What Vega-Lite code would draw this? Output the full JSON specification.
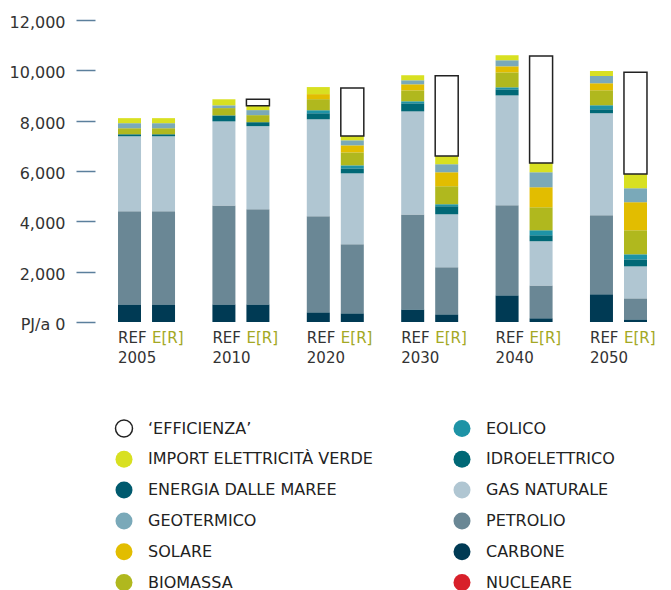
{
  "$schema": "https://vega.github.io/schema/vega-lite/v6.json",
  "width": 545,
  "height": 302,
  "autosize": {"type": "none"},
  "padding": {"left": 110, "top": 20, "right": 16, "bottom": 268},
  "background": "#ffffff",
  "config": {
    "view": {"stroke": null},
    "font": "DejaVu Sans",
    "axis": {"labelFont": "DejaVu Sans"},
    "legend": {"labelFont": "DejaVu Sans"}
  },
  "data": {
    "values": [
      {"year": "2005", "scenario": "REF", "source": "CARBONE", "value": 700},
      {"year": "2005", "scenario": "REF", "source": "PETROLIO", "value": 3700},
      {"year": "2005", "scenario": "REF", "source": "GAS NATURALE", "value": 2980},
      {"year": "2005", "scenario": "REF", "source": "IDROELETTRICO", "value": 80},
      {"year": "2005", "scenario": "REF", "source": "BIOMASSA", "value": 240},
      {"year": "2005", "scenario": "REF", "source": "GEOTERMICO", "value": 200},
      {"year": "2005", "scenario": "REF", "source": "IMPORT ELETTRICITÀ VERDE", "value": 200},
      {"year": "2005", "scenario": "E[R]", "source": "CARBONE", "value": 700},
      {"year": "2005", "scenario": "E[R]", "source": "PETROLIO", "value": 3700},
      {"year": "2005", "scenario": "E[R]", "source": "GAS NATURALE", "value": 2980},
      {"year": "2005", "scenario": "E[R]", "source": "IDROELETTRICO", "value": 80},
      {"year": "2005", "scenario": "E[R]", "source": "BIOMASSA", "value": 240},
      {"year": "2005", "scenario": "E[R]", "source": "GEOTERMICO", "value": 200},
      {"year": "2005", "scenario": "E[R]", "source": "IMPORT ELETTRICITÀ VERDE", "value": 200},
      {"year": "2010", "scenario": "REF", "source": "CARBONE", "value": 700},
      {"year": "2010", "scenario": "REF", "source": "PETROLIO", "value": 3930},
      {"year": "2010", "scenario": "REF", "source": "GAS NATURALE", "value": 3340},
      {"year": "2010", "scenario": "REF", "source": "IDROELETTRICO", "value": 240},
      {"year": "2010", "scenario": "REF", "source": "BIOMASSA", "value": 290},
      {"year": "2010", "scenario": "REF", "source": "GEOTERMICO", "value": 110},
      {"year": "2010", "scenario": "REF", "source": "IMPORT ELETTRICITÀ VERDE", "value": 240},
      {"year": "2010", "scenario": "E[R]", "source": "CARBONE", "value": 700},
      {"year": "2010", "scenario": "E[R]", "source": "PETROLIO", "value": 3780},
      {"year": "2010", "scenario": "E[R]", "source": "GAS NATURALE", "value": 3300},
      {"year": "2010", "scenario": "E[R]", "source": "IDROELETTRICO", "value": 160},
      {"year": "2010", "scenario": "E[R]", "source": "BIOMASSA", "value": 280},
      {"year": "2010", "scenario": "E[R]", "source": "GEOTERMICO", "value": 200},
      {"year": "2010", "scenario": "E[R]", "source": "IMPORT ELETTRICITÀ VERDE", "value": 170},
      {"year": "2010", "scenario": "E[R]", "source": "‘EFFICIENZA’", "value": 260},
      {"year": "2020", "scenario": "REF", "source": "CARBONE", "value": 385},
      {"year": "2020", "scenario": "REF", "source": "PETROLIO", "value": 3815},
      {"year": "2020", "scenario": "REF", "source": "GAS NATURALE", "value": 3855},
      {"year": "2020", "scenario": "REF", "source": "IDROELETTRICO", "value": 240},
      {"year": "2020", "scenario": "REF", "source": "EOLICO", "value": 120},
      {"year": "2020", "scenario": "REF", "source": "BIOMASSA", "value": 440},
      {"year": "2020", "scenario": "REF", "source": "SOLARE", "value": 200},
      {"year": "2020", "scenario": "REF", "source": "IMPORT ELETTRICITÀ VERDE", "value": 280},
      {"year": "2020", "scenario": "E[R]", "source": "CARBONE", "value": 345},
      {"year": "2020", "scenario": "E[R]", "source": "PETROLIO", "value": 2740},
      {"year": "2020", "scenario": "E[R]", "source": "GAS NATURALE", "value": 2820},
      {"year": "2020", "scenario": "E[R]", "source": "IDROELETTRICO", "value": 200},
      {"year": "2020", "scenario": "E[R]", "source": "EOLICO", "value": 120},
      {"year": "2020", "scenario": "E[R]", "source": "BIOMASSA", "value": 515},
      {"year": "2020", "scenario": "E[R]", "source": "SOLARE", "value": 280},
      {"year": "2020", "scenario": "E[R]", "source": "GEOTERMICO", "value": 200},
      {"year": "2020", "scenario": "E[R]", "source": "IMPORT ELETTRICITÀ VERDE", "value": 170},
      {"year": "2020", "scenario": "E[R]", "source": "‘EFFICIENZA’", "value": 1910},
      {"year": "2030", "scenario": "REF", "source": "CARBONE", "value": 500},
      {"year": "2030", "scenario": "REF", "source": "PETROLIO", "value": 3775},
      {"year": "2030", "scenario": "REF", "source": "GAS NATURALE", "value": 4095},
      {"year": "2030", "scenario": "REF", "source": "IDROELETTRICO", "value": 320},
      {"year": "2030", "scenario": "REF", "source": "EOLICO", "value": 80},
      {"year": "2030", "scenario": "REF", "source": "BIOMASSA", "value": 435},
      {"year": "2030", "scenario": "REF", "source": "SOLARE", "value": 240},
      {"year": "2030", "scenario": "REF", "source": "GEOTERMICO", "value": 160},
      {"year": "2030", "scenario": "REF", "source": "IMPORT ELETTRICITÀ VERDE", "value": 200},
      {"year": "2030", "scenario": "E[R]", "source": "CARBONE", "value": 305},
      {"year": "2030", "scenario": "E[R]", "source": "PETROLIO", "value": 1870},
      {"year": "2030", "scenario": "E[R]", "source": "GAS NATURALE", "value": 2105},
      {"year": "2030", "scenario": "E[R]", "source": "IDROELETTRICO", "value": 320},
      {"year": "2030", "scenario": "E[R]", "source": "EOLICO", "value": 80},
      {"year": "2030", "scenario": "E[R]", "source": "BIOMASSA", "value": 715},
      {"year": "2030", "scenario": "E[R]", "source": "SOLARE", "value": 555},
      {"year": "2030", "scenario": "E[R]", "source": "GEOTERMICO", "value": 320},
      {"year": "2030", "scenario": "E[R]", "source": "IMPORT ELETTRICITÀ VERDE", "value": 330},
      {"year": "2030", "scenario": "E[R]", "source": "‘EFFICIENZA’", "value": 3180},
      {"year": "2040", "scenario": "REF", "source": "CARBONE", "value": 1060},
      {"year": "2040", "scenario": "REF", "source": "PETROLIO", "value": 3575},
      {"year": "2040", "scenario": "REF", "source": "GAS NATURALE", "value": 4370},
      {"year": "2040", "scenario": "REF", "source": "IDROELETTRICO", "value": 240},
      {"year": "2040", "scenario": "REF", "source": "EOLICO", "value": 80},
      {"year": "2040", "scenario": "REF", "source": "BIOMASSA", "value": 595},
      {"year": "2040", "scenario": "REF", "source": "SOLARE", "value": 240},
      {"year": "2040", "scenario": "REF", "source": "GEOTERMICO", "value": 240},
      {"year": "2040", "scenario": "REF", "source": "IMPORT ELETTRICITÀ VERDE", "value": 200},
      {"year": "2040", "scenario": "E[R]", "source": "CARBONE", "value": 145},
      {"year": "2040", "scenario": "E[R]", "source": "PETROLIO", "value": 1310},
      {"year": "2040", "scenario": "E[R]", "source": "GAS NATURALE", "value": 1750},
      {"year": "2040", "scenario": "E[R]", "source": "IDROELETTRICO", "value": 240},
      {"year": "2040", "scenario": "E[R]", "source": "EOLICO", "value": 200},
      {"year": "2040", "scenario": "E[R]", "source": "BIOMASSA", "value": 915},
      {"year": "2040", "scenario": "E[R]", "source": "SOLARE", "value": 795},
      {"year": "2040", "scenario": "E[R]", "source": "GEOTERMICO", "value": 595},
      {"year": "2040", "scenario": "E[R]", "source": "IMPORT ELETTRICITÀ VERDE", "value": 370},
      {"year": "2040", "scenario": "E[R]", "source": "‘EFFICIENZA’", "value": 4250},
      {"year": "2050", "scenario": "REF", "source": "CARBONE", "value": 1100},
      {"year": "2050", "scenario": "REF", "source": "PETROLIO", "value": 3140},
      {"year": "2050", "scenario": "REF", "source": "GAS NATURALE", "value": 4055},
      {"year": "2050", "scenario": "REF", "source": "IDROELETTRICO", "value": 160},
      {"year": "2050", "scenario": "REF", "source": "EOLICO", "value": 160},
      {"year": "2050", "scenario": "REF", "source": "BIOMASSA", "value": 595},
      {"year": "2050", "scenario": "REF", "source": "SOLARE", "value": 280},
      {"year": "2050", "scenario": "REF", "source": "GEOTERMICO", "value": 280},
      {"year": "2050", "scenario": "REF", "source": "IMPORT ELETTRICITÀ VERDE", "value": 200},
      {"year": "2050", "scenario": "E[R]", "source": "CARBONE", "value": 105},
      {"year": "2050", "scenario": "E[R]", "source": "PETROLIO", "value": 835},
      {"year": "2050", "scenario": "E[R]", "source": "GAS NATURALE", "value": 1270},
      {"year": "2050", "scenario": "E[R]", "source": "IDROELETTRICO", "value": 280},
      {"year": "2050", "scenario": "E[R]", "source": "EOLICO", "value": 200},
      {"year": "2050", "scenario": "E[R]", "source": "BIOMASSA", "value": 955},
      {"year": "2050", "scenario": "E[R]", "source": "SOLARE", "value": 1115},
      {"year": "2050", "scenario": "E[R]", "source": "GEOTERMICO", "value": 555},
      {"year": "2050", "scenario": "E[R]", "source": "IMPORT ELETTRICITÀ VERDE", "value": 570},
      {"year": "2050", "scenario": "E[R]", "source": "‘EFFICIENZA’", "value": 4040}
    ]
  },
  "encoding": {
    "x": {
      "field": "year",
      "type": "nominal",
      "scale": {"paddingInner": 0.396, "paddingOuter": 0.085},
      "axis": {
        "title": null,
        "domain": false,
        "ticks": false,
        "labelAngle": 0,
        "labelAlign": "left",
        "labelOffset": -28.5,
        "labelPadding": 28,
        "labelFontSize": 15,
        "labelColor": "#333333"
      }
    },
    "xOffset": {
      "field": "scenario",
      "type": "nominal",
      "scale": {"domain": ["REF", "E[R]"], "paddingInner": 0.3235, "paddingOuter": 0}
    }
  },
  "layer": [
    {
      "transform": [
        {"calculate": "indexof(['CARBONE','PETROLIO','GAS NATURALE','NUCLEARE','IDROELETTRICO','ENERGIA DALLE MAREE','EOLICO','BIOMASSA','SOLARE','GEOTERMICO','IMPORT ELETTRICITÀ VERDE','‘EFFICIENZA’'], datum.source)", "as": "stack_order"}
      ],
      "mark": {"type": "bar", "strokeWidth": 1.5},
      "encoding": {
        "y": {
          "field": "value",
          "type": "quantitative",
          "stack": "zero",
          "scale": {"domain": [0, 12000], "nice": false},
          "axis": {
            "title": null,
            "grid": false,
            "domain": false,
            "values": [0, 2000, 4000, 6000, 8000, 10000, 12000],
            "labelExpr": "datum.value === 0 ? 'PJ/a 0' : format(datum.value, ',.0f')",
            "tickSize": 19,
            "tickWidth": 1.5,
            "tickColor": "#5b7f9c",
            "offset": 15,
            "labelPadding": 11,
            "labelOffset": 2.5,
            "labelFontSize": 16,
            "labelColor": "#333333"
          }
        },
        "color": {
          "field": "source",
          "type": "nominal",
          "scale": {
            "domain": ["‘EFFICIENZA’", "IMPORT ELETTRICITÀ VERDE", "ENERGIA DALLE MAREE", "GEOTERMICO", "SOLARE", "BIOMASSA", "EOLICO", "IDROELETTRICO", "GAS NATURALE", "PETROLIO", "CARBONE", "NUCLEARE"],
            "range": ["#ffffff", "#d8e021", "#005a6e", "#7aa9b9", "#e2bd00", "#b0b81e", "#1e93a6", "#006876", "#b0c6d2", "#6a8795", "#003a54", "#d8202a"]
          },
          "legend": {
            "title": null,
            "orient": "none",
            "legendX": 4.5,
            "legendY": 399,
            "columns": 2,
            "columnPadding": 77,
            "rowPadding": 7.8,
            "symbolType": "circle",
            "symbolSize": 289,
            "symbolStrokeWidth": 1.5,
            "labelFontSize": 16,
            "labelOffset": 14.5,
            "labelLimit": 400,
            "labelColor": "#222222"
          }
        },
        "stroke": {
          "field": "source",
          "type": "nominal",
          "scale": {
            "domain": ["‘EFFICIENZA’", "IMPORT ELETTRICITÀ VERDE", "ENERGIA DALLE MAREE", "GEOTERMICO", "SOLARE", "BIOMASSA", "EOLICO", "IDROELETTRICO", "GAS NATURALE", "PETROLIO", "CARBONE", "NUCLEARE"],
            "range": ["#222222", "transparent", "transparent", "transparent", "transparent", "transparent", "transparent", "transparent", "transparent", "transparent", "transparent", "transparent"]
          },
          "legend": {
            "title": null,
            "orient": "none",
            "legendX": 4.5,
            "legendY": 399,
            "columns": 2,
            "columnPadding": 77,
            "rowPadding": 7.8,
            "symbolType": "circle",
            "symbolSize": 289,
            "symbolStrokeWidth": 1.5,
            "labelFontSize": 16,
            "labelOffset": 14.5,
            "labelLimit": 400,
            "labelColor": "#222222"
          }
        },
        "order": {"field": "stack_order", "type": "quantitative", "sort": "ascending"}
      }
    },
    {
      "transform": [
        {"aggregate": [{"op": "count", "as": "n"}], "groupby": ["year", "scenario"]}
      ],
      "mark": {"type": "text", "align": "left", "baseline": "top", "dy": 9, "dx": -11.5, "fontSize": 15},
      "encoding": {
        "y": {"datum": 0, "type": "quantitative"},
        "text": {"field": "scenario"},
        "color": {
          "condition": {"test": "datum.scenario === 'E[R]'", "value": "#a3a824"},
          "value": "#333333"
        }
      }
    }
  ]
}
